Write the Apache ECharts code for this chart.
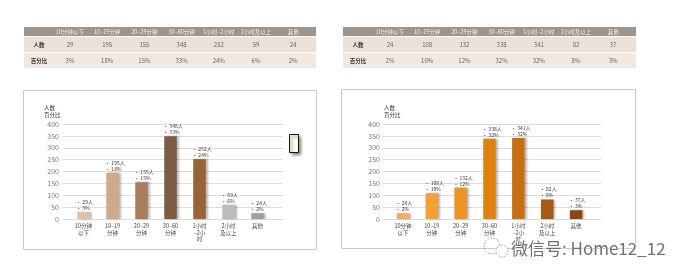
<!DOCTYPE html>
<html><head><meta charset="utf-8">
<script src="https://cdn.jsdelivr.net/npm/echarts@6/dist/echarts.min.js"></script>
<style>html,body{margin:0;padding:0;background:#fff}#c{width:686px;height:275px}</style>
</head><body><div id="c"></div>
<script>
const tableCats = ['10分钟以下','10~19分钟','20~29分钟','30~60分钟','1小时~2小时','2小时及以上','其他'];
const axisCats = ['10分钟\n以下','10~19\n分钟','20~29\n分钟','30~60\n分钟','1小时\n~2小\n时','2小时\n及以上','其他'];
const rowNames = ['人数','百分比'];
const count1 = [29,195,155,348,252,59,24];
const pct1 = ['3%','18%','15%','33%','24%','6%','2%'];
const count2 = [24,108,132,338,341,82,37];
const pct2 = ['2%','10%','12%','32%','32%','8%','3%'];
const yMin = 0, yMax = 400, yStep = 50;

const colors1 = ['#e2bfa6','#d0a98c','#a97d5b','#7c5a43','#9a6237','#bcbcbc','#9e9e9e'];
const colors2 = ['#f6ad5a','#f3a035','#ec9322','#de820f','#c8700f','#a65a12','#874812'];
const FONT = '"Noto Sans CJK SC", "Noto Sans", sans-serif';

const chart = echarts.init(document.getElementById('c'), null, {renderer:'canvas'});

function tableGraphics(x0, w, labelX, colX0, colStep, counts, pcts) {
  const g = [];
  g.push({type:'rect', shape:{x:x0, y:27, width:w, height:9}, style:{fill:'#9d958d'}});
  g.push({type:'rect', shape:{x:x0, y:37, width:w, height:15}, style:{fill:'#ebe1d8'}});
  g.push({type:'rect', shape:{x:x0, y:53, width:w, height:15}, style:{fill:'#f0e8e1'}});
  tableCats.forEach((c,i)=>{
    g.push({type:'text', x:colX0+colStep*i, y:31.5, style:{text:c, fill:'#f4efe9', font:'5.5px '+FONT, align:'center', verticalAlign:'middle'}});
    g.push({type:'text', x:colX0+colStep*i, y:44.5, style:{text:String(counts[i]), fill:'#6e6660', font:'6px '+FONT, align:'center', verticalAlign:'middle'}});
    g.push({type:'text', x:colX0+colStep*i, y:60.5, style:{text:pcts[i], fill:'#6e6660', font:'6px '+FONT, align:'center', verticalAlign:'middle'}});
  });
  g.push({type:'text', x:labelX, y:44.5, style:{text:rowNames[0], fill:'#3a3430', font:'bold 5.5px '+FONT, align:'center', verticalAlign:'middle'}});
  g.push({type:'text', x:labelX, y:60.5, style:{text:rowNames[1], fill:'#3a3430', font:'bold 5.5px '+FONT, align:'center', verticalAlign:'middle'}});
  return g;
}

const graphics = [
  {type:'rect', shape:{x:23.5, y:90.5, width:293, height:159}, style:{fill:'#fff', stroke:'#c9c9c9', lineWidth:1}, z:-10},
  {type:'rect', shape:{x:341.5, y:89.5, width:294, height:159}, style:{fill:'#fff', stroke:'#c9c9c9', lineWidth:1}, z:-10},
  ...tableGraphics(24, 292, 39, 70, 37.2, count1, pct1),
  ...tableGraphics(343, 293, 358, 390, 37.2, count2, pct2),
  {type:'text', x:44, y:104, style:{text:'人数\n百分比', fill:'#333', font:'5.5px '+FONT, lineHeight:7}},
  {type:'text', x:384, y:104, style:{text:'人数\n百分比', fill:'#333', font:'5.5px '+FONT, lineHeight:7}},
  {type:'rect', shape:{x:289.5, y:134.5, width:9, height:18}, style:{fill:'#fffdea', stroke:'#111', lineWidth:1, shadowColor:'rgba(0,0,0,0.45)', shadowBlur:3, shadowOffsetX:2, shadowOffsetY:2}},
  {type:'circle', shape:{cx:492, cy:246, r:8}, style:{fill:'none', stroke:'#999', lineWidth:1, lineDash:[1.5,1.5]}},
  {type:'circle', shape:{cx:502, cy:251, r:6}, style:{fill:'#fff', stroke:'#999', lineWidth:1, lineDash:[1.5,1.5]}},
  {type:'text', x:511, y:249, style:{text:'微信号: Home12_12', fill:'#707070', font:'17px '+FONT, verticalAlign:'middle', stroke:'#fff', lineWidth:1}, z:100}
];

function barSeries(idx, counts, pcts, cols) {
  return {
    type:'bar', xAxisIndex:idx, yAxisIndex:idx, barWidth:12.5,
    data: counts.map((v,i)=>({value:v, itemStyle:{color:cols[i]}})),
    itemStyle:{shadowColor:'rgba(0,0,0,0.28)', shadowBlur:2, shadowOffsetX:2, shadowOffsetY:0},
    label:{show:true, position:[-1,-13], fontSize:5, lineHeight:6, color:'#333', fontFamily:FONT,
      formatter:p=>'• '+counts[p.dataIndex]+'人\n• '+pcts[p.dataIndex]},
    silent:true, animation:false
  };
}

const yAxisStyle = {type:'value', min:yMin, max:yMax, interval:yStep,
  axisLine:{show:false}, axisTick:{show:false},
  axisLabel:{fontSize:7, color:'#7a7a7a', margin:4, fontFamily:FONT},
  splitLine:{lineStyle:{color:'#dcdcdc', width:1}}};

const option = {
  animation:false,
  graphic: graphics,
  grid:[
    {left:63, top:124, width:220, height:95},
    {left:69, top:124, width:203, height:95},
    {left:383, top:124, width:218, height:95},
    {left:388.5, top:124, width:202, height:95}
  ],
  xAxis:[
    {gridIndex:0, type:'value', show:false, min:0, max:1},
    {gridIndex:1, type:'category', data:axisCats, axisLine:{show:false}, axisTick:{show:false},
      axisLabel:{fontSize:5.5, lineHeight:6.5, color:'#444', margin:4, fontFamily:FONT, interval:0}},
    {gridIndex:2, type:'value', show:false, min:0, max:1},
    {gridIndex:3, type:'category', data:axisCats, axisLine:{show:false}, axisTick:{show:false},
      axisLabel:{fontSize:5.5, lineHeight:6.5, color:'#444', margin:4, fontFamily:FONT, interval:0}}
  ],
  yAxis:[
    Object.assign({gridIndex:0}, yAxisStyle),
    {gridIndex:1, type:'value', min:yMin, max:yMax, show:false},
    Object.assign({gridIndex:2}, yAxisStyle, {axisLabel:{fontSize:7, color:'#7a7a7a', margin:3, fontFamily:FONT}}),
    {gridIndex:3, type:'value', min:yMin, max:yMax, show:false}
  ],
  series:[
    {type:'scatter', xAxisIndex:0, yAxisIndex:0, data:[]},
    barSeries(1, count1, pct1, colors1),
    {type:'scatter', xAxisIndex:2, yAxisIndex:2, data:[]},
    barSeries(3, count2, pct2, colors2)
  ]
};
chart.setOption(option);
</script></body></html>
